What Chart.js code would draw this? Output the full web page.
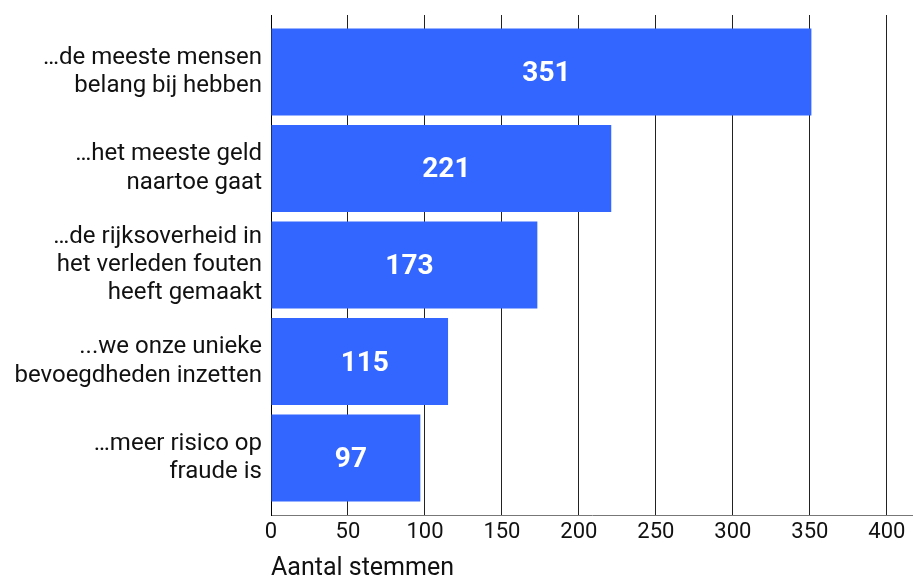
<!DOCTYPE html>
<html>
<head>
<meta charset="utf-8">
<script src="https://cdn.jsdelivr.net/npm/chart.js@4"></script>
<style>
  html, body { margin: 0; padding: 0; background: #fff; }
  #wrap { width: 913px; height: 578px; }
</style>
</head>
<body>
<div id="wrap"><canvas id="votesChart" width="913" height="578"></canvas></div>
<script>
// Stemmen per antwoord
const categories = [
  ["…de meeste mensen", "belang bij hebben"],
  ["…het meeste geld", "naartoe gaat"],
  ["…de rijksoverheid in", "het verleden fouten", "heeft gemaakt"],
  ["...we onze unieke", "bevoegdheden inzetten"],
  ["…meer risico op", "fraude is"],
];
const votes = [351, 221, 173, 115, 97];
const xTicks = [0, 50, 100, 150, 200, 250, 300, 350, 400];
const axisTitle = "Aantal stemmen";

// waarde in het midden van de balk
const barValues = {
  id: "barValues",
  afterDatasetsDraw(chart) {
    const ctx = chart.ctx;
    const meta = chart.getDatasetMeta(0);
    ctx.save();
    ctx.fillStyle = "#ffffff";
    ctx.font = "bold 28px Roboto";
    ctx.textAlign = "center";
    ctx.textBaseline = "middle";
    meta.data.forEach((bar, i) => {
      const x = (bar.x + bar.base) / 2 + 5;
      ctx.fillText(String(votes[i]), x, bar.y + 2);
    });
    ctx.restore();
  },
};

const ctx = document.getElementById("votesChart").getContext("2d");
new Chart(ctx, {
  type: "bar",
  data: {
    labels: categories,
    datasets: [
      {
        data: votes,
        backgroundColor: "#3366ff",
        barPercentage: 0.9,
        categoryPercentage: 1,
      },
    ],
  },
  options: {
    indexAxis: "y",
    responsive: false,
    animation: false,
    layout: { padding: { top: 15, right: 0, left: 0, bottom: 0 } },
    plugins: {
      legend: { display: false },
      tooltip: { enabled: false },
    },
    scales: {
      x: {
        min: 0,
        max: 417,
        afterBuildTicks: (axis) => {
          axis.ticks = xTicks.map((v) => ({ value: v }));
        },
        afterFit: (axis) => {
          axis.height = 63;
          axis.paddingLeft = 0;
          axis.paddingRight = 0;
        },
        grid: { color: "#222", lineWidth: 1, drawTicks: false },
        border: { color: "#777", width: 1 },
        ticks: {
          color: "#111",
          font: { family: "Roboto", size: 22 },
          padding: 4,
        },
        title: {
          display: true,
          text: axisTitle,
          align: "start",
          color: "#111",
          font: { family: "Roboto", size: 25, lineHeight: 0.75 },
          padding: { top: 0, bottom: 0 },
        },
      },
      y: {
        afterBuildTicks: (axis) => {
          // a bit of extra room above the first and below the last bar
          axis._startValue -= 0.09;
          axis._valueRange += 0.18;
        },
        afterFit: (axis) => {
          axis.width = 271;
          axis.paddingTop = 0;
          axis.paddingBottom = 0;
        },
        grid: { display: false, drawTicks: false },
        border: { color: "#000", width: 1 },
        ticks: {
          color: "#111",
          font: { family: "Roboto", size: 24, lineHeight: 1.18 },
          padding: 9,
        },
      },
    },
  },
  plugins: [barValues],
});
</script>
</body>
</html>
